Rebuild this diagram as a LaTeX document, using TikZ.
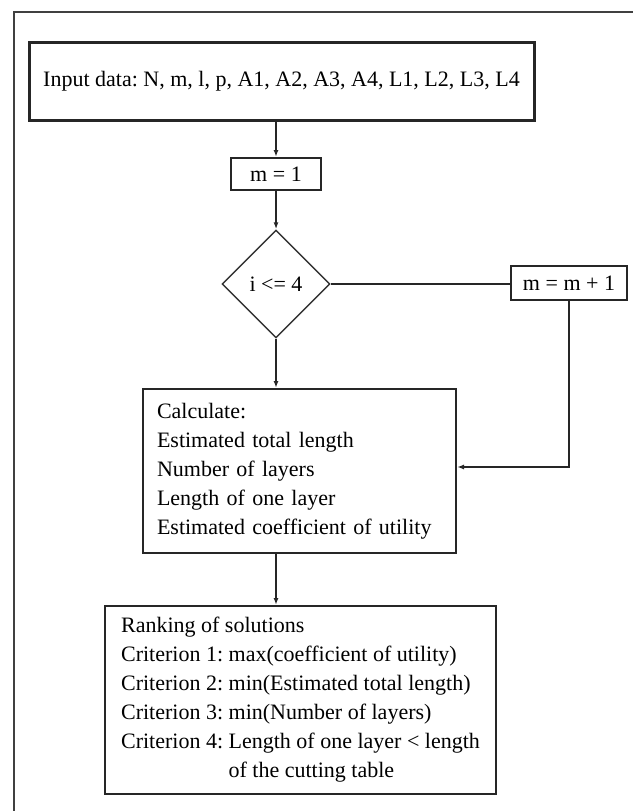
\documentclass[tikz,border=0pt]{standalone}
\usepackage{fontspec}
\setmainfont{Liberation Serif}
\usetikzlibrary{shapes.geometric,arrows.meta,calc}
\tikzset{
  txt/.style={font=\fontsize{22}{29}\selectfont\frenchspacing},
  box/.style={draw=black!85,line width=2pt,inner sep=0pt,txt},
  bigbox/.style={box,line width=3pt},
  dec/.style={draw=black!80,line width=1.4pt,diamond,inner sep=0pt,minimum width=108pt,minimum height=108pt,txt},
  conn/.style={draw=black!85,line width=1.8pt},
  arr/.style={conn,-{Latex[length=7pt,width=5pt]}},
}
\begin{document}
\begin{tikzpicture}[x=1pt,y=-1pt]
\useasboundingbox (0,0) rectangle (633,811);
\draw[draw=black!75,line width=1.5pt] (14,811) -- (14,12) -- (633,12);
\node[bigbox,minimum width=505pt,minimum height=78pt] (in) at (281.5,81) {Input data: N, m, l, p, A1, A2, A3, A4, L1, L2, L3, L4};
\node[box,minimum width=90pt,minimum height=32pt] (m1) at (276,174) {m = 1};
\node[dec] (d) at (276,284) {i <= 4};
\node[box,minimum width=116pt,minimum height=34pt] (mm) at (569,283) {m = m + 1};
\node[box,minimum width=313pt,minimum height=164pt,text width=285pt,align=left] (calc) at (299.5,471) {Calculate:\\Estimated total length\\Number of layers\\Length of one layer\\Estimated coefficient of utility};
\node[box,minimum width=391pt,minimum height=188pt,align=left] (rank) at (300.5,700) {Ranking of solutions\\Criterion 1: max(coefficient of utility)\\Criterion 2: min(Estimated total length)\\Criterion 3: min(Number of layers)\\Criterion 4: Length of one layer < length\\\phantom{Criterion 4: }of the cutting table};
\draw[arr] (in.south -| m1.north) -- (m1.north);
\draw[arr] (m1.south) -- (d.north);
\draw[arr] (d.south) -- (d.south |- calc.north);
\draw[arr] (d.south |- calc.south) -- (d.south |- rank.north);
\draw[conn] (d.east) -- (d.east -| mm.west);
\draw[arr] (mm.south) |- ($(calc.east)+(0,-4)$);
\end{tikzpicture}
\end{document}
